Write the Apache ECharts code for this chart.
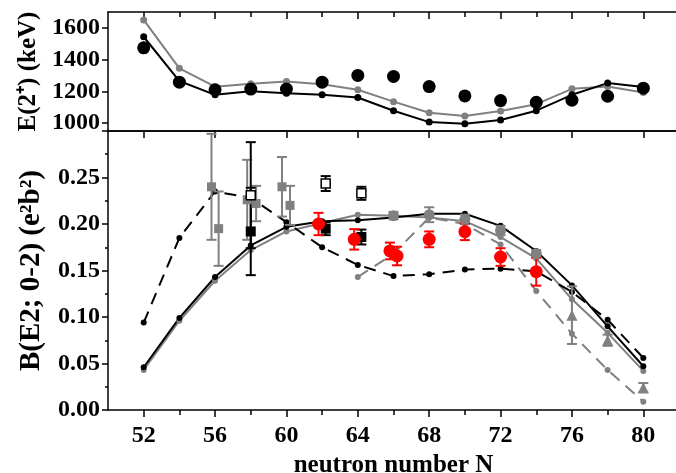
<!DOCTYPE html>
<html>
<head>
<meta charset="utf-8">
<script src="https://cdn.jsdelivr.net/npm/echarts@6/dist/echarts.min.js"></script>
<style>
  html, body { margin: 0; padding: 0; background: #fff; }
  #chart { width: 676px; height: 473px; }
</style>
</head>
<body>
<div id="chart"></div>
<script>
// neutron numbers of the calculated points
const neutronN = [52, 54, 56, 58, 60, 62, 64, 66, 68, 70, 72, 74, 76, 78, 80];

// upper panel: E(2+) in keV
const e2Exp = [1474, 1258, 1210, 1214, 1214, 1258, 1300, 1294, 1230, 1171, 1142, 1131, 1144, 1169, 1220];
const e2CalcBlack = [1544, 1265, 1178, 1200, 1188, 1178, 1161, 1078, 1006, 996, 1019, 1078, 1178, 1252, 1227];
const e2CalcGray = [1650, 1345, 1229, 1248, 1262, 1245, 1210, 1135, 1065, 1044, 1076, 1119, 1216, 1230, 1192];

// lower panel: B(E2; 0-2) in e2b2
const be2CalcBlack = [0.046, 0.099, 0.143, 0.177, 0.197, 0.203, 0.204, 0.207, 0.211, 0.211, 0.198, 0.171, 0.134, 0.090, 0.047];
const be2CalcGray = [0.043, 0.096, 0.139, 0.172, 0.192, 0.201, 0.210, 0.209, 0.207, 0.203, 0.186, 0.163, 0.119, 0.083, 0.042];
const be2CalcDashed = [0.094, 0.185, 0.235, 0.228, 0.202, 0.175, 0.156, 0.144, 0.146, 0.151, 0.152, 0.149, 0.127, 0.097, 0.056];
const dashedGrayN = [64, 66, 68, 70, 72, 74, 76, 78, 80];
const be2DashedGray = [0.143, 0.168, 0.207, 0.200, 0.178, 0.128, 0.082, 0.043, 0.009];

// measured points: [N, value, error]
const grayBoxes = [[55.8, 0.240, 0.057], [56.2, 0.195, 0.040], [57.8, 0.226, 0.043], [58.3, 0.222, 0.019], [59.75, 0.240, 0.032], [60.2, 0.220, 0.021]];
const blackBoxes = [[58, 0.192, 0.047], [62.2, 0.195, 0.007], [64.2, 0.186, 0.008]];
const openBoxes = [[58, 0.231, 0.057], [62.2, 0.2435, 0.008], [64.2, 0.233, 0.007]];
const redDots = [[61.8, 0.200, 0.012], [63.8, 0.1835, 0.011], [65.8, 0.171, 0.009], [66.2, 0.1656, 0.010], [68, 0.1835, 0.0085], [70, 0.1917, 0.009], [72, 0.1645, 0.0095], [74, 0.1487, 0.015]];
const grayDots = [[66, 0.209, 0.004], [68, 0.210, 0.008], [70, 0.205, 0.005], [72, 0.193, 0.005], [74, 0.168, 0.004]];
const grayTriangles = [[76, 0.102, 0.031], [78, 0.075, 0.006], [80, 0.024, 0.005]];

// ticks
const xMajorTicks = [52, 56, 60, 64, 68, 72, 76, 80];
const xMinorTicks = [54, 58, 62, 66, 70, 74, 78];
const eTickLabels = [1000, 1200, 1400, 1600];
const eMinorTicks = [1100, 1300, 1500];
const bTickLabels = [0, 0.05, 0.1, 0.15, 0.2, 0.25];

const FONT = "Liberation Serif";
const GRAY = "#808080";
const labelStyle = { fontFamily: FONT, fontWeight: "bold", fontSize: 24, color: "#000" };
const axisLine = { show: true, onZero: false, lineStyle: { color: "#000", width: 1.5 } };

const zip = (xs, ys) => xs.map((x, i) => [x, ys[i]]);

function xAxisFor(gridIndex, position, ticks, length, inside, extra) {
  return Object.assign({
    type: "value", gridIndex, position, min: 50, max: 82,
    axisLine: axisLine,
    splitLine: { show: false },
    axisTick: { show: true, inside, length, customValues: ticks, lineStyle: { color: "#000", width: 1.5 } },
    axisLabel: { show: false },
  }, extra || {});
}

function lineSeries(x, y, data, color, dashed, size) {
  return {
    type: "line", xAxisIndex: x, yAxisIndex: y, data,
    symbol: "circle", symbolSize: size, showSymbol: true,
    lineStyle: { color, width: 2, type: dashed ? [12, 8] : "solid" },
    itemStyle: { color, opacity: 1 },
    z: 3,
  };
}

function errorBars(data, color) {
  return {
    type: "custom", xAxisIndex: 3, yAxisIndex: 2,
    data: data.map((d) => [d[0], d[1] - d[2], d[1] + d[2]]),
    renderItem(params, api) {
      const lo = api.coord([api.value(0), api.value(1)]);
      const hi = api.coord([api.value(0), api.value(2)]);
      const w = 5;
      const style = { stroke: color, lineWidth: 2 };
      return {
        type: "group",
        children: [
          { type: "line", shape: { x1: lo[0], y1: lo[1], x2: hi[0], y2: hi[1] }, style },
          { type: "line", shape: { x1: lo[0] - w, y1: lo[1], x2: lo[0] + w, y2: lo[1] }, style },
          { type: "line", shape: { x1: hi[0] - w, y1: hi[1], x2: hi[0] + w, y2: hi[1] }, style },
        ],
      };
    },
    z: 4,
  };
}

function points(data, symbol, size, color, border) {
  return {
    type: "scatter", xAxisIndex: 3, yAxisIndex: 2,
    data: data.map((d) => [d[0], d[1]]),
    symbol, symbolSize: size,
    itemStyle: border
      ? { color: "#fff", borderColor: border, borderWidth: 1.5, opacity: 1 }
      : { color, opacity: 1 },
    z: 5,
  };
}

const chart = echarts.init(document.getElementById("chart"), null, { renderer: "canvas" });
chart.setOption({
  animation: false,
  backgroundColor: "#fff",
  grid: [
    { left: 108, top: 12, width: 571, height: 119, outerBoundsMode: "none" },
    { left: 108, top: 131, width: 571, height: 279, outerBoundsMode: "none" },
  ],
  xAxis: [
    xAxisFor(0, "bottom", [], 0, true, { axisTick: { show: false } }),
    xAxisFor(0, "top", xMajorTicks, 7, true),
    xAxisFor(1, "top", xMajorTicks, 7, true),
    xAxisFor(1, "bottom", xMajorTicks, 7, false, {
      axisLabel: Object.assign({ show: true, margin: 14, customValues: xMajorTicks }, labelStyle),
      name: "neutron number N",
      nameLocation: "middle",
      nameGap: 34,
      nameTextStyle: { fontFamily: FONT, fontWeight: "bold", fontSize: 25, color: "#000" },
    }),
    xAxisFor(0, "top", xMinorTicks, 5, true, { axisLine: { show: false } }),
    xAxisFor(1, "top", xMinorTicks, 5, true, { axisLine: { show: false } }),
    xAxisFor(1, "bottom", xMinorTicks, 4, false, { axisLine: { show: false } }),
  ],
  yAxis: [
    {
      type: "value", gridIndex: 0, min: 950, max: 1700,
      axisLine: axisLine,
      splitLine: { show: false },
      axisTick: { show: true, length: 6, customValues: eTickLabels, lineStyle: { color: "#000", width: 1.5 } },
      axisLabel: Object.assign({ margin: 8, customValues: eTickLabels, formatter: (v) => String(v) }, labelStyle),
      name: "E(2⁺) (keV)",
      nameLocation: "middle",
      nameRotate: 90,
      nameGap: 62,
      nameTextStyle: { fontFamily: FONT, fontWeight: "bold", fontSize: 25, color: "#000" },
    },
    {
      type: "value", gridIndex: 0, min: 950, max: 1700,
      axisLine: { show: false },
      splitLine: { show: false },
      axisTick: { show: true, length: 3, customValues: eMinorTicks, lineStyle: { color: "#000", width: 1.5 } },
      axisLabel: { show: false },
    },
    {
      type: "value", gridIndex: 1, min: 0, max: 0.3, interval: 0.05,
      axisLine: axisLine,
      splitLine: { show: false },
      axisTick: { show: true, length: 6, lineStyle: { color: "#000", width: 1.5 } },
      minorTick: { show: true, splitNumber: 2, length: 3, lineStyle: { color: "#000", width: 1.5 } },
      axisLabel: Object.assign({ margin: 8, customValues: bTickLabels, formatter: (v) => v.toFixed(2) }, labelStyle),
      name: "B(E2; 0-2) (e²b²)",
      nameLocation: "middle",
      nameRotate: 90,
      nameGap: 62,
      nameTextStyle: { fontFamily: FONT, fontWeight: "bold", fontSize: 29, color: "#000" },
    },
  ],
  series: [
    // upper panel
    lineSeries(0, 0, zip(neutronN, e2CalcGray), GRAY, false, 7),
    lineSeries(0, 0, zip(neutronN, e2CalcBlack), "#000", false, 7),
    {
      type: "scatter", xAxisIndex: 0, yAxisIndex: 0,
      data: zip(neutronN, e2Exp), symbol: "circle", symbolSize: 13,
      itemStyle: { color: "#000", opacity: 1 }, z: 5,
    },
    // lower panel, calculations
    lineSeries(3, 2, zip(neutronN, be2CalcGray), GRAY, false, 6),
    lineSeries(3, 2, zip(neutronN, be2CalcBlack), "#000", false, 6),
    lineSeries(3, 2, zip(neutronN, be2CalcDashed), "#000", true, 6),
    lineSeries(3, 2, zip(dashedGrayN, be2DashedGray), GRAY, true, 6),
    // lower panel, measurements
    errorBars(grayBoxes, GRAY),
    errorBars(grayDots, GRAY),
    errorBars(grayTriangles, GRAY),
    errorBars(openBoxes, "#000"),
    errorBars(blackBoxes, "#000"),
    errorBars(redDots, "#ff0000"),
    points(grayBoxes, "rect", 9, GRAY),
    points(grayDots, "circle", 11, GRAY),
    points(grayTriangles, "triangle", 11, GRAY),
    points(openBoxes, "rect", 9, null, "#000"),
    points(blackBoxes, "rect", 10, "#000"),
    points(redDots, "circle", 13, "#ff0000"),
  ],
});
</script>
</body>
</html>
